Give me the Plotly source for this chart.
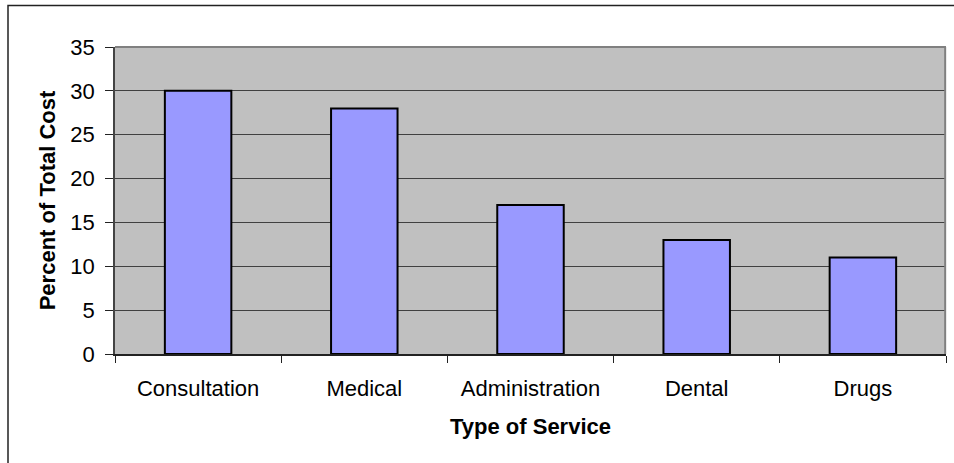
import plotly.graph_objects as go

categories = ["Consultation", "Medical", "Administration", "Dental", "Drugs"]
values = [30, 28, 17, 13, 11]
y_ticks = [0, 5, 10, 15, 20, 25, 30, 35]

W, H = 954, 463
L, R, T, B = 115, 8, 47, 109
pw, ph = W - L - R, H - T - B

fig = go.Figure(go.Bar(
    x=categories, y=values,
    marker=dict(color="#9999FF", line=dict(color="black", width=2)),
    width=0.4,
))

font = "Liberation Sans, Arial, sans-serif"

fig.update_layout(
    width=W, height=H,
    margin=dict(l=L, r=R, t=T, b=B, pad=0),
    paper_bgcolor="white",
    plot_bgcolor="#C0C0C0",
    showlegend=False,
    font=dict(family=font, size=22, color="black"),
    xaxis=dict(
        type="category",
        showgrid=False,
        ticks="outside", tickson="boundaries", ticklen=7, tickcolor="#222",
        showline=True, linecolor="#222", linewidth=1.5,
        ticklabelstandoff=14,
        tickfont=dict(size=22),
        title=dict(text="<b>Type of Service</b>", font=dict(size=22), standoff=18),
        range=[-0.5, 4.5],
    ),
    yaxis=dict(
        range=[0, 35], tickvals=y_ticks,
        showgrid=True, gridcolor="#404040", gridwidth=1,
        ticks="outside", ticklen=8, tickcolor="#222",
        showline=True, linecolor="#444", linewidth=1.5,
        ticklabelstandoff=6,
        tickfont=dict(size=22),
        zeroline=False,
        title=dict(text="<b>Percent of Total Cost</b>", font=dict(size=22), standoff=9),
    ),
    shapes=[
        # outer chart frame (cropped at right and bottom)
        dict(type="rect", xref="paper", yref="paper",
             x0=(8 - L) / pw, x1=(W + 20 - L) / pw,
             y0=-(B + 20) / ph, y1=1 + (T - 5.5) / ph,
             line=dict(color="#222", width=1.5), fillcolor="rgba(0,0,0,0)", layer="below"),
        # plot area top/right border
        dict(type="line", xref="paper", yref="paper", x0=0, x1=1, y0=1, y1=1,
             line=dict(color="#808080", width=2)),
        dict(type="line", xref="paper", yref="paper", x0=0.999, x1=0.999, y0=0, y1=1,
             line=dict(color="#808080", width=2)),
    ],
)

fig.write_html("out.html", config={"displayModeBar": False},
               post_script="document.body.style.margin='0';")
